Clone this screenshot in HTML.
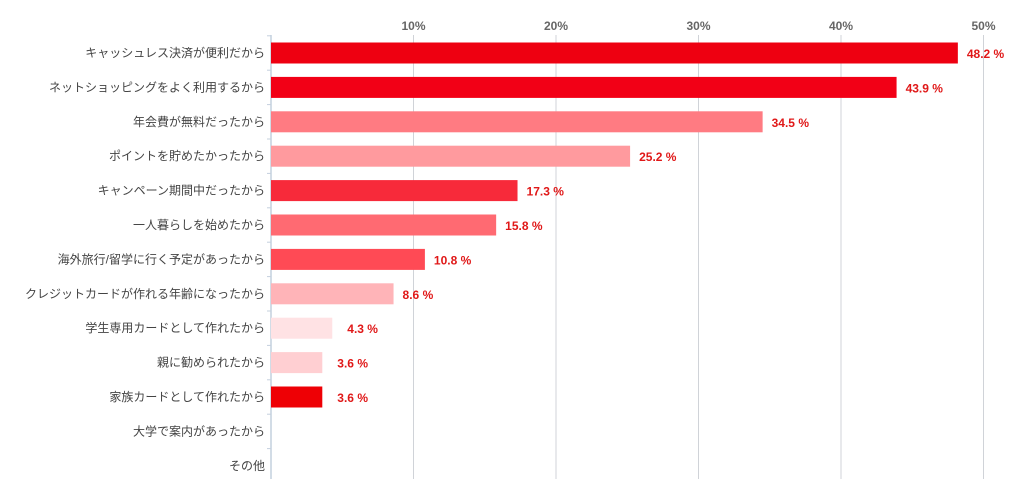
<!DOCTYPE html>
<html><head><meta charset="utf-8"><style>
body{margin:0;background:#fff;}
text{font-family:"Liberation Sans","Noto Sans CJK JP",sans-serif;}
</style></head><body>
<svg id="chart" width="1024" height="479" xmlns="http://www.w3.org/2000/svg"></svg>
<script>
const categories=["キャッシュレス決済が便利だから","ネットショッピングをよく利用するから","年会費が無料だったから","ポイントを貯めたかったから","キャンペーン期間中だったから","一人暮らしを始めたから","海外旅行/留学に行く予定があったから","クレジットカードが作れる年齢になったから","学生専用カードとして作れたから","親に勧められたから","家族カードとして作れたから","大学で案内があったから","その他"];
const values=[48.2,43.9,34.5,25.2,17.3,15.8,10.8,8.6,4.3,3.6,3.6,null,null];
const barColors=["#ee0011","#f20016","#ff7b82","#ff9a9e","#f72a3a","#ff6a72","#ff4a55","#ffb4b8","#ffe2e4","#ffcfd2","#ee0005",null,null];
const tickValues=[10,20,30,40,50];
const tickLabels=["10%","20%","30%","40%","50%"];
const NS="http://www.w3.org/2000/svg";
const svg=document.getElementById('chart');
const x0=271,pxPer=14.25,y0=53,step=34.4,bh=21;
const xs=v=>x0+v*pxPer;
const ys=i=>y0+i*step;
function mk(t,a){const e=document.createElementNS(NS,t);for(const k in a)e.setAttribute(k,a[k]);svg.appendChild(e);return e;}
tickValues.forEach((v,i)=>{
  const g=mk('line',{x1:xs(v),x2:xs(v),y1:35,y2:479,stroke:'#d0d3d8','stroke-width':1});
  
  
  const t=mk('text',{x:xs(v),y:30,'text-anchor':'middle','font-size':12,'font-weight':'bold',fill:'#666'});
  t.textContent=tickLabels[i];
  
  
});
const ax=mk('line',{x1:x0,x2:x0,y1:35,y2:479,stroke:'#c4d0de','stroke-width':1.5});


categories.forEach((c,i)=>{
  const tk=mk('line',{x1:x0-4,x2:x0,y1:ys(i)-step/2,y2:ys(i)-step/2,stroke:'#c4d0de'});
  
  
  const t=mk('text',{x:265,y:ys(i)+4,'text-anchor':'end','font-size':12,fill:'#444'});
  t.textContent=c;
  
  
  const v=values[i];
  if(v!=null){
    const r=mk('rect',{x:x0,y:ys(i)-bh/2,width:xs(v)-x0,height:bh,fill:barColors[i]});
    
    
    const l=mk('text',{x:xs(v)+9+(v<6?6:0),y:ys(i)+5,'font-size':12,'font-weight':'bold',fill:'#e01818'});
    l.textContent=v.toFixed(1)+' %';
    
    
  }
});
</script>
</body></html>
